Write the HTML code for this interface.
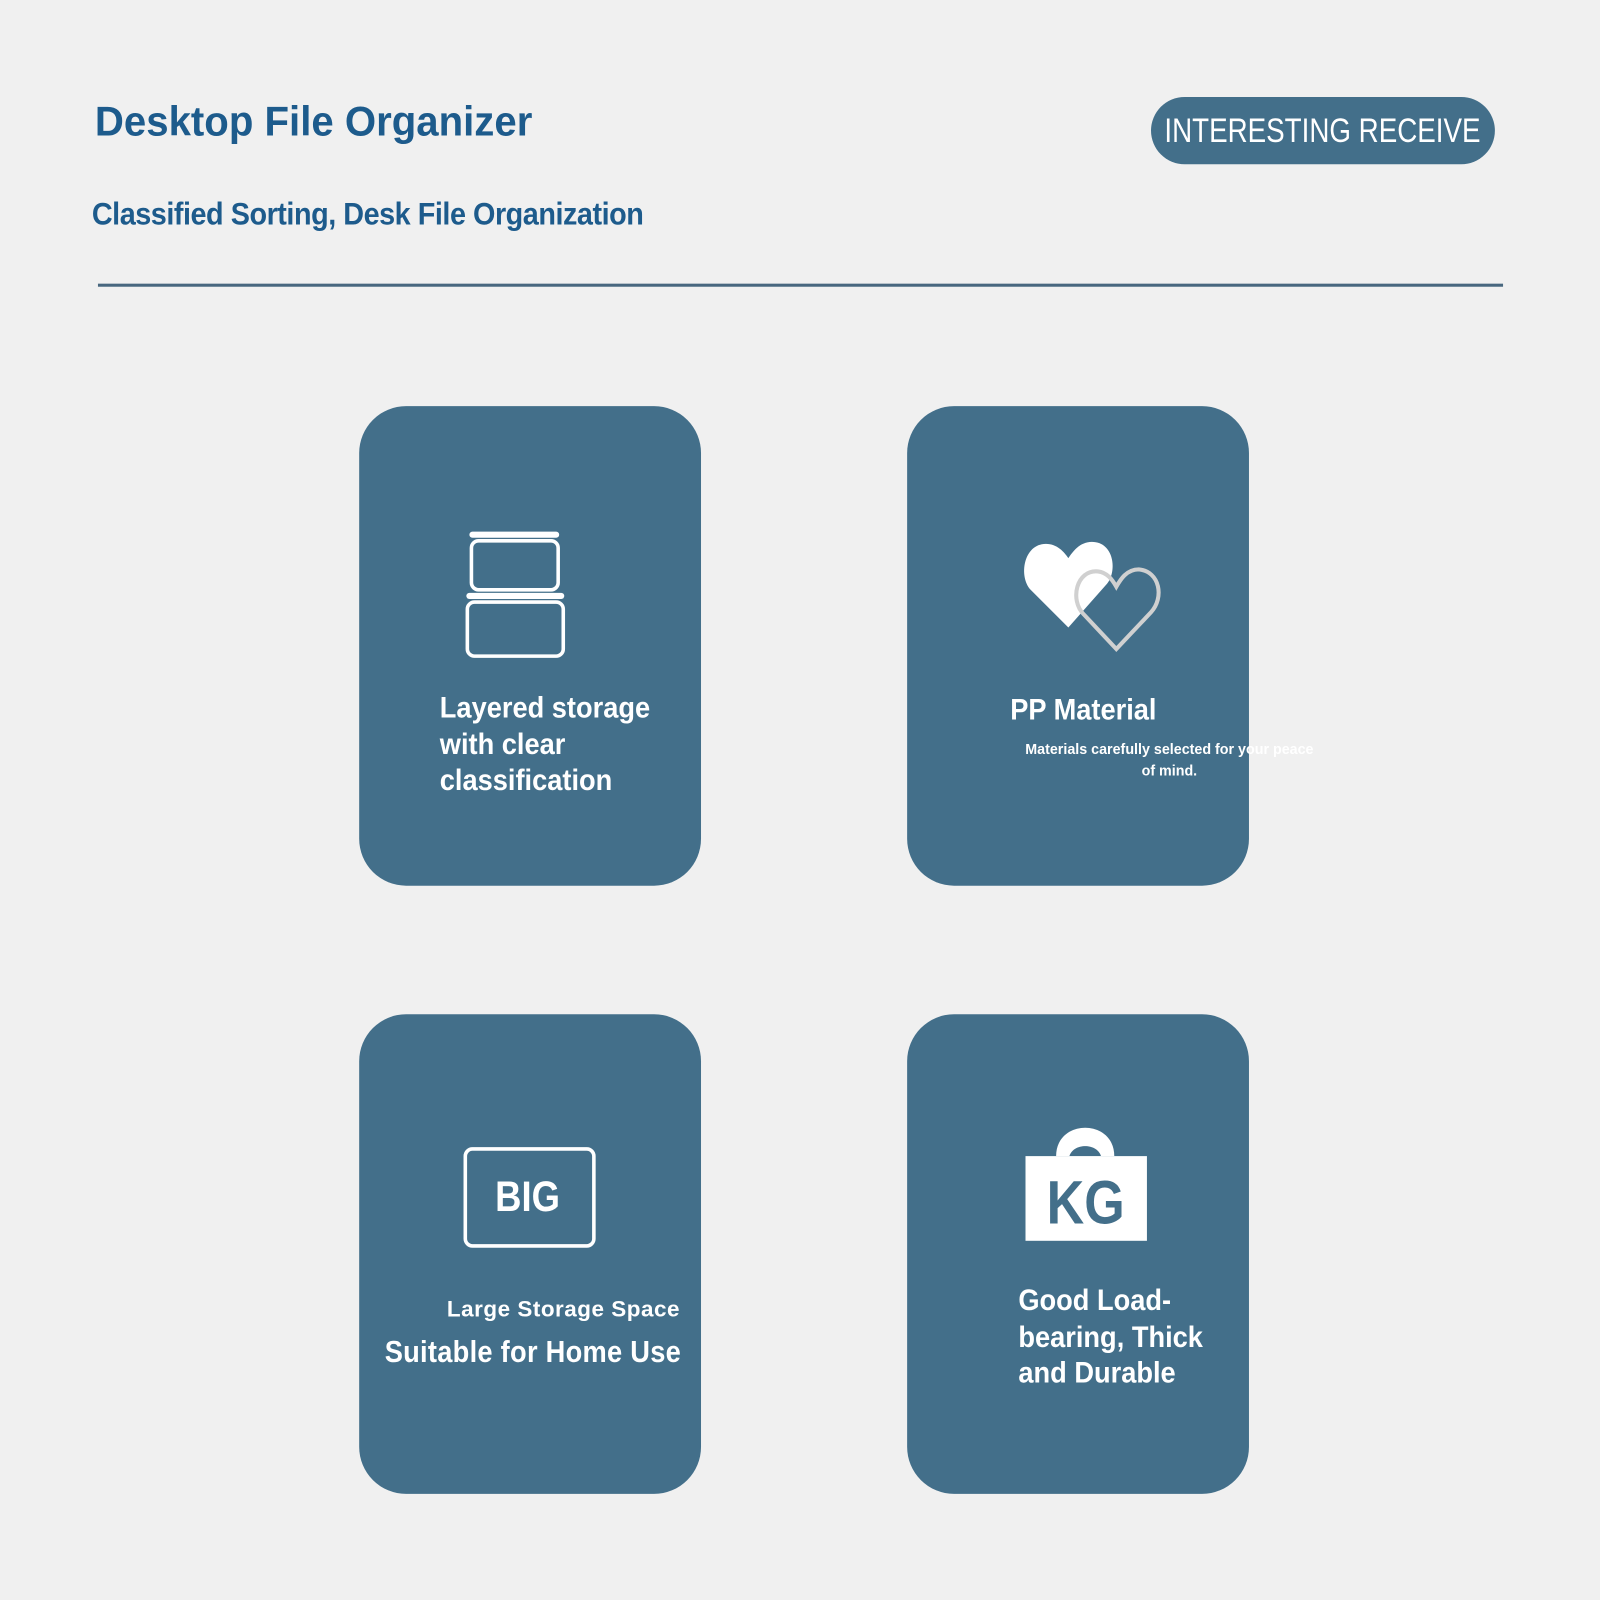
<!DOCTYPE html>
<html><head><meta charset="utf-8"><style>
html,body{margin:0;padding:0;background:#f0f0f0;width:1600px;height:1600px;overflow:hidden}
#w{position:absolute;left:0;top:0;width:1568px;height:1568px;transform:scale(1.0204);transform-origin:0 0;font-family:"Liberation Sans",sans-serif;font-weight:bold}
.a{position:absolute;white-space:nowrap}
.card{position:absolute;width:335px;height:470px;background:#436f8a;border-radius:46px}
.t{position:absolute;color:#fff;font-size:29px;line-height:35.5px;white-space:nowrap;font-family:"Liberation Sans",sans-serif;transform:scaleX(0.92);transform-origin:0 0}
</style></head><body><div id="w">
<div class="a" style="left:93px;top:96px;font-size:41px;color:#1d5b8c;transform:scaleX(0.96);transform-origin:0 0">Desktop File Organizer</div>
<div class="a" style="left:90px;top:192px;font-size:31px;color:#1d5b8c;letter-spacing:-0.5px;transform:scaleX(0.91);transform-origin:0 0">Classified Sorting, Desk File Organization</div>
<div class="a" style="left:1128px;top:95px;width:337px;height:66px;border-radius:33px;background:#436f8a"></div>
<div class="a" style="left:1046px;top:95px;width:500px;height:66px;color:#fff;font-size:34px;line-height:66px;text-align:center;font-weight:normal;transform:scaleX(0.8);transform-origin:center">INTERESTING RECEIVE</div>
<div class="a" style="left:96px;top:278px;width:1377px;height:3px;background:#48677f"></div>

<div class="card" style="left:352px;top:398px"></div>
<div class="card" style="left:889px;top:398px"></div>
<div class="card" style="left:352px;top:994px"></div>
<div class="card" style="left:889px;top:994px"></div>

<svg class="a" style="left:0;top:0" width="1568" height="1568">
<g fill="none" stroke="#fff" stroke-width="3.5">
<rect x="462" y="530" width="85" height="48" rx="7"/>
<rect x="458" y="590" width="94" height="53" rx="7"/>
<rect x="456" y="1126" width="126" height="95" rx="7"/>
</g>
<rect x="460" y="521" width="88" height="6" rx="3" fill="#fff"/>
<rect x="457" y="581" width="96" height="6" rx="3" fill="#fff"/>
<path d="M1047 615 L1010 578 C998 565 1003 533 1025 533 C1036 533 1043 541 1047 547 C1051 541 1058 531 1070 531 C1092 531 1095 560 1085 572 Z" fill="#fff"/>
<path d="M1094 636 L1062 602 C1048 588 1055 558 1076 560 C1085 561 1090 568 1094 575 C1098 568 1104 558 1116 558 C1137 560 1141 586 1128 600 Z" fill="none" stroke="#d0d0d0" stroke-width="4"/>
<path d="M1035 1133 C1035 1096 1092 1096 1092 1133 Z" fill="#fff"/>
<path d="M1048 1133 C1052 1120 1075 1120 1079 1133 Z" fill="#436f8a"/>
<rect x="1005" y="1133" width="119" height="83" fill="#fff"/>
<text x="1064" y="1199" fill="#436f8a" font-family="Liberation Sans, sans-serif" font-weight="bold" font-size="60" text-anchor="middle" transform="translate(1064 0) scale(0.85 1) translate(-1064 0)">KG</text>
<text x="517" y="1187" fill="#fff" font-family="Liberation Sans, sans-serif" font-weight="bold" font-size="42" text-anchor="middle" transform="translate(517 0) scale(0.85 1) translate(-517 0)">BIG</text>
</svg>

<div class="t" style="left:431px;top:677px">Layered storage<br>with clear<br>classification</div>
<div class="t" style="left:990px;top:679px">PP Material</div>
<div class="a" style="left:996px;top:724px;color:#fff;font-size:14px;line-height:21px;text-align:center;width:300px">Materials carefully selected for your peace<br>of mind.</div>
<div class="a" style="left:438px;top:1270px;color:#fff;font-size:22px;letter-spacing:0.5px">Large Storage Space</div>
<div class="a" style="left:377px;top:1309px;color:#fff;font-size:30px;letter-spacing:0.3px;transform:scaleX(0.89);transform-origin:0 0">Suitable for Home Use</div>
<div class="t" style="left:998px;top:1258px">Good Load-<br>bearing, Thick<br>and Durable</div>
</div></body></html>
